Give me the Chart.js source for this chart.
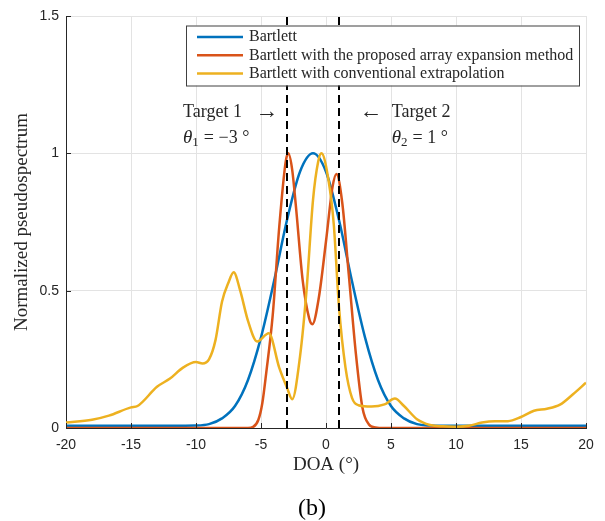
<!DOCTYPE html>
<html>
<head>
<meta charset="utf-8">
<script src="https://cdn.jsdelivr.net/npm/chart.js@4/dist/chart.umd.min.js"></script>
<style>
  html, body { margin: 0; padding: 0; background: #fff; }
  #wrap { width: 605px; height: 521px; }
</style>
</head>
<body>
<div id="wrap"><canvas id="doa"></canvas></div>
<script>
// ── pseudospectrum samples (DOA in degrees, normalized power) ──
const bartlettDoa = [-20, -16, -12, -10, -9, -8, -7, -6, -5, -4, -3, -2, -1, 0, 1, 2, 3, 4, 5, 6, 7, 8, 9, 10, 12, 16, 20];
const bartlettVal = [0.008, 0.008, 0.008, 0.009, 0.014, 0.035, 0.08, 0.175, 0.33, 0.534, 0.757, 0.933, 1.0, 0.933, 0.757, 0.534, 0.33, 0.175, 0.08, 0.035, 0.014, 0.009, 0.008, 0.008, 0.008, 0.008, 0.008];

const expandDoa = [-20, -10, -6, -5.6, -5.2, -4.9, -4.6, -4.1, -3.6, -3.1, -2.9, -2.6, -2.3, -1.8, -1.3, -1.05, -0.55, 0, 0.5, 0.8, 1.25, 1.75, 2.3, 2.8, 3.3, 3.8, 4.5, 10, 20];
const expandVal = [0, 0, 0, 0.004, 0.03, 0.09, 0.2, 0.41, 0.73, 0.97, 1.0, 0.94, 0.8, 0.54, 0.4, 0.378, 0.475, 0.68, 0.877, 0.925, 0.82, 0.56, 0.27, 0.075, 0.013, 0.002, 0, 0, 0];

const extrapDoa = [-20, -18, -16.7, -15, -14.5, -13, -12, -11, -10, -9.5, -9, -8.5, -8, -7.5, -7.1, -6.6, -6, -5.3, -4.4, -3.6, -3, -2.6, -2, -1.5, -1, -0.6, -0.35, 0.2, 0.6, 1.0, 1.5, 2.0, 2.5, 3.5, 4.5, 5.3, 6, 7, 8, 9, 10, 11, 12, 13, 14, 15, 16, 17, 18, 19, 20];
const extrapVal = [0.02, 0.03, 0.045, 0.075, 0.08, 0.15, 0.18, 0.22, 0.24, 0.235, 0.25, 0.32, 0.46, 0.53, 0.567, 0.5, 0.39, 0.315, 0.345, 0.22, 0.147, 0.105, 0.26, 0.5, 0.83, 0.97, 1.0, 0.9, 0.74, 0.44, 0.22, 0.11, 0.083, 0.078, 0.086, 0.107, 0.08, 0.032, 0.011, 0.006, 0.005, 0.008, 0.02, 0.025, 0.025, 0.04, 0.063, 0.07, 0.085, 0.123, 0.165];

const targetDoa = [-3, 1];
const seriesNames = ['Bartlett', 'Bartlett with the proposed array expansion method', 'Bartlett with conventional extrapolation'];
const seriesColors = ['#0072BD', '#D95319', '#EDB120'];
const xTicks = [-20, -15, -10, -5, 0, 5, 10, 15, 20];
const yTicks = [0, 0.5, 1, 1.5];

const SERIF = '"Liberation Serif", "DejaVu Serif", serif';
const SANS = '"Liberation Sans", Arial, sans-serif';

const pts = (xs, ys) => xs.map((x, i) => ({ x, y: ys[i] }));

function curve(i, xs, ys) {
  return {
    label: seriesNames[i],
    data: pts(xs, ys),
    borderColor: seriesColors[i],
    borderWidth: 2.5,
    pointRadius: 0,
    cubicInterpolationMode: 'monotone',
    order: 3 - i,
    isCurve: true
  };
}

function marker(doa) {
  return {
    data: [{ x: doa, y: 0 }, { x: doa, y: 1.5 }],
    borderColor: '#000',
    borderWidth: 2,
    borderDash: [8, 5],
    pointRadius: 0,
    order: 0
  };
}

// inward tick marks, target notes, boxed legend and panel label
const decorations = {
  id: 'decorations',
  afterDraw(chart) {
    const { ctx, chartArea: a, scales: { x, y } } = chart;
    ctx.save();

    ctx.strokeStyle = '#262626';
    ctx.lineWidth = 1;
    ctx.beginPath();
    xTicks.forEach(v => {
      const px = Math.round(x.getPixelForValue(v)) + 0.5;
      ctx.moveTo(px, a.bottom); ctx.lineTo(px, a.bottom - 5);
    });
    yTicks.forEach(v => {
      const py = Math.round(y.getPixelForValue(v)) + 0.5;
      ctx.moveTo(a.left, py); ctx.lineTo(a.left + 5, py);
    });
    ctx.stroke();

    // target annotations
    ctx.fillStyle = '#262626';
    ctx.textBaseline = 'middle';
    ctx.textAlign = 'left';
    const rowA = y.getPixelForValue(1.15);
    const rowB = y.getPixelForValue(1.056);
    ctx.font = `18px ${SERIF}`;
    ctx.fillText('Target 1', x.getPixelForValue(-11), rowA);
    ctx.fillText('Target 2', x.getPixelForValue(5.05), rowA);
    ctx.font = `23px ${SERIF}`;
    ctx.fillText('→', x.getPixelForValue(-5.45), rowA);
    ctx.fillText('←', x.getPixelForValue(2.55), rowA);

    const theta = (sub, rest, px) => {
      ctx.font = `italic 19px ${SERIF}`;
      ctx.fillText('θ', px, rowB);
      let w = ctx.measureText('θ').width;
      ctx.font = `13px ${SERIF}`;
      ctx.fillText(sub, px + w, rowB + 5);
      w += ctx.measureText(sub).width + 5;
      ctx.font = `18px ${SERIF}`;
      ctx.fillText(rest, px + w, rowB);
    };
    theta('1', '= −3 °', x.getPixelForValue(-11));
    theta('2', '= 1 °', x.getPixelForValue(5.05));

    // legend box
    const bx = 186, by = 25.5, bw = 393, bh = 60;
    ctx.fillStyle = '#fff';
    ctx.fillRect(bx, by, bw, bh);
    ctx.strokeStyle = '#404040';
    ctx.lineWidth = 1;
    ctx.strokeRect(bx + 0.5, by + 0.5, bw, bh);
    ctx.font = `16px ${SERIF}`;
    chart.data.datasets.filter(d => d.isCurve).forEach((d, i) => {
      const ly = by + 11.5 + i * 18.3;
      ctx.strokeStyle = d.borderColor;
      ctx.lineWidth = 2.5;
      ctx.beginPath();
      ctx.moveTo(bx + 11, ly); ctx.lineTo(bx + 57, ly);
      ctx.stroke();
      ctx.fillStyle = '#262626';
      ctx.fillText(d.label, bx + 63, ly);
    });

    // panel label
    ctx.fillStyle = '#000';
    ctx.textAlign = 'center';
    ctx.font = `24px ${SERIF}`;
    ctx.fillText('(b)', 312, 509);
    ctx.restore();
  }
};

new Chart(document.getElementById('doa'), {
  type: 'line',
  data: {
    datasets: [
      marker(targetDoa[0]),
      marker(targetDoa[1]),
      curve(0, bartlettDoa, bartlettVal),
      curve(1, expandDoa, expandVal),
      curve(2, extrapDoa, extrapVal)
    ]
  },
  options: {
    responsive: true, maintainAspectRatio: false, animation: false,
    layout: { padding: { top: 16, right: 19, left: 0, bottom: 0 } },
    scales: {
      x: {
        type: 'linear', min: -20, max: 20,
        afterBuildTicks: s => { s.ticks = xTicks.map(v => ({ value: v })); },
        afterFit: s => { s.height = 93; },
        grid: { color: '#e3e3e3', drawTicks: false },
        border: { color: '#262626' },
        ticks: { color: '#262626', padding: 9, font: { family: SANS, size: 14 }, callback: v => String(v) },
        title: { display: true, text: 'DOA (°)', color: '#262626', font: { family: SERIF, size: 19 }, padding: { top: 0, bottom: 44.6 } }
      },
      y: {
        min: 0, max: 1.5,
        afterBuildTicks: s => { s.ticks = yTicks.map(v => ({ value: v })); },
        afterFit: s => { s.width = 66; },
        grid: { color: '#e3e3e3', drawTicks: false },
        border: { color: '#262626' },
        ticks: { color: '#262626', padding: 7, font: { family: SANS, size: 14 }, callback: v => String(v) },
        title: { display: true, text: 'Normalized pseudospectrum', color: '#262626', font: { family: SERIF, size: 19 }, padding: { top: 10.6, bottom: 0 } }
      }
    },
    plugins: {
      legend: { display: false },
      tooltip: { enabled: false }
    }
  },
  plugins: [decorations]
});
</script>
</body>
</html>
